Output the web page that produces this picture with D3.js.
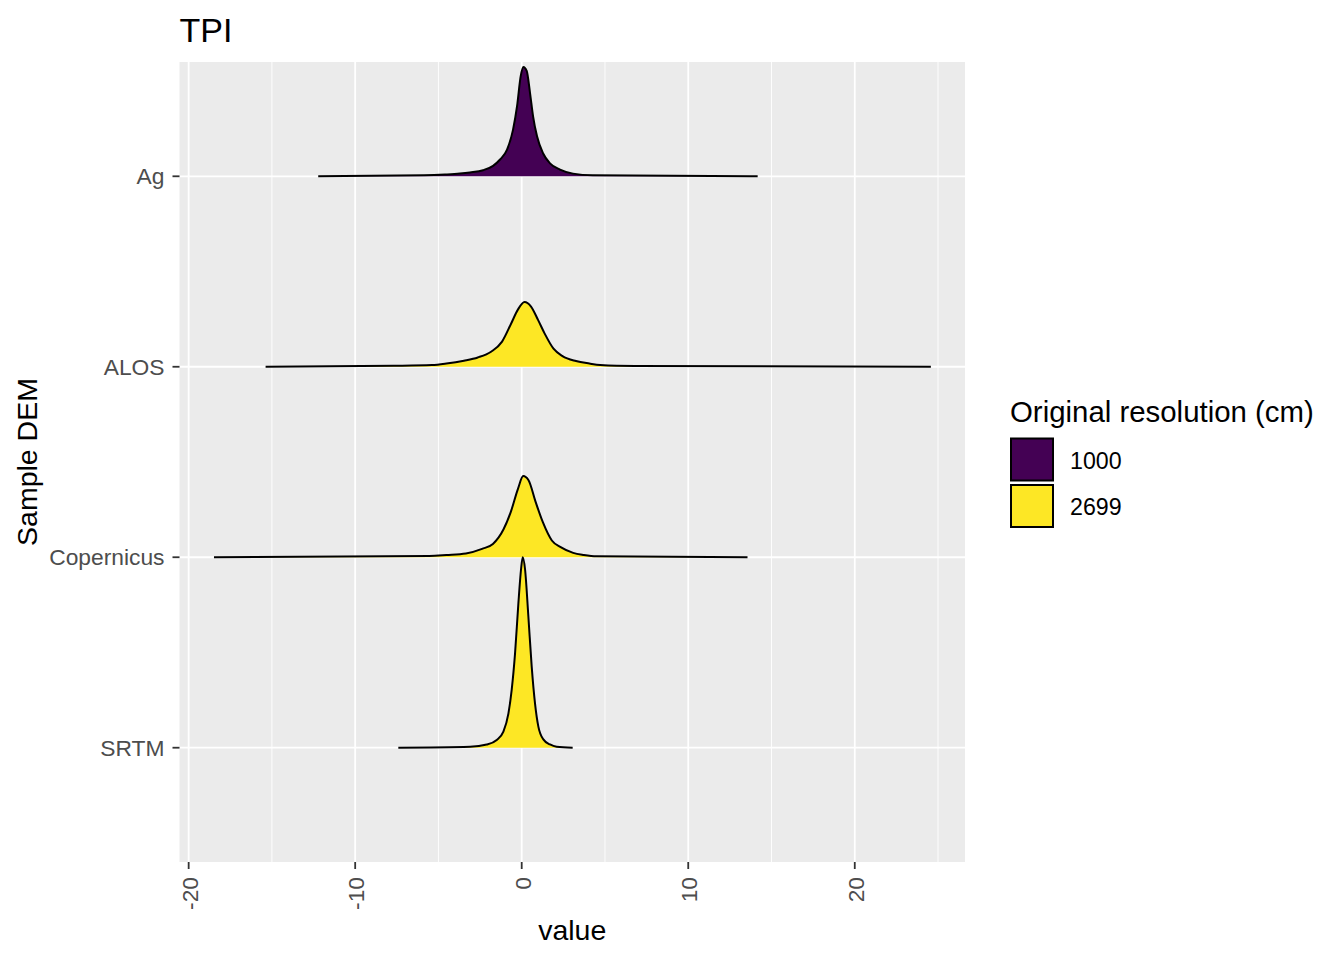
<!DOCTYPE html>
<html>
<head>
<meta charset="utf-8">
<script src="https://cdn.jsdelivr.net/npm/d3@7"></script>
<style>
  body { margin: 0; background: #fff; }
  text { font-family: 'Liberation Sans', Arial, sans-serif; }
</style>
</head>
<body>
<div id="chart"></div>
<script>
// ridge categories, top to bottom
const categories = ['Ag', 'ALOS', 'Copernicus', 'SRTM'];
const resolution = ['1000', '2699', '2699', '2699'];
const legendLevels = ['1000', '2699'];
const xTicks = [-20, -10, 0, 10, 20];
const xMinorTicks = [-15, -5, 5, 15, 25];

// density curves (x value, scaled density)
const agX = [-12.22, -5.87, -4.61, -3.71, -3.11, -2.32, -1.72, -1.3, -0.88, -0.52, -0.28, -0.06, 0.1, 0.3, 0.5, 0.68, 0.92, 1.28, 1.7, 2.3, 3.08, 4.26, 14.17];
const agD = [0, 0.005, 0.009, 0.014, 0.02, 0.032, 0.055, 0.088, 0.14, 0.245, 0.368, 0.526, 0.574, 0.553, 0.437, 0.316, 0.21, 0.121, 0.068, 0.035, 0.014, 0.005, 0];

const alosX = [-15.38, -7.68, -5.39, -4.52, -3.47, -2.64, -1.84, -1.18, -0.64, -0.23, 0.17, 0.56, 0.98, 1.38, 1.91, 2.45, 3.26, 4.06, 4.71, 6.79, 24.57];
const alosD = [0, 0.005, 0.009, 0.017, 0.032, 0.049, 0.079, 0.132, 0.226, 0.3, 0.34, 0.316, 0.246, 0.174, 0.095, 0.056, 0.03, 0.017, 0.009, 0.004, 0];

const copX = [-18.48, -5.55, -4.52, -3.35, -2.38, -1.73, -1.09, -0.66, -0.23, 0.09, 0.41, 0.84, 1.27, 1.81, 2.34, 3.09, 3.73, 4.49, 13.56];
const copD = [0, 0.007, 0.012, 0.02, 0.044, 0.07, 0.147, 0.237, 0.358, 0.426, 0.404, 0.289, 0.184, 0.088, 0.053, 0.023, 0.012, 0.005, 0];

const srtmX = [-7.41, -3.1, -2.1, -1.5, -1.1, -0.8, -0.6, -0.4, -0.2, -0.04, 0.06, 0.2, 0.4, 0.6, 0.8, 1.0, 1.3, 1.7, 2.1, 3.06];
const srtmD = [0, 0.005, 0.017, 0.041, 0.084, 0.179, 0.305, 0.495, 0.758, 0.937, 1.0, 0.937, 0.689, 0.426, 0.232, 0.111, 0.044, 0.017, 0.005, 0];

const ridgeX = [agX, alosX, copX, srtmX];
const ridgeD = [agD, alosD, copD, srtmD];

const W = 1344, H = 960;
const panel = { left: 179.5, right: 965, top: 62, bottom: 862 };

const svg = d3.select('#chart').append('svg')
  .attr('width', W)
  .attr('height', H);

const x = d3.scaleLinear().domain([-20.55, 26.62]).range([panel.left, panel.right]);
// categories sit at 4..1 from top to bottom
const y = d3.scaleLinear().domain([0.4, 4.6]).range([panel.bottom, panel.top]);
const yPos = (i) => categories.length - i;

const fill = d3.scaleOrdinal().domain(legendLevels).range(['#440154', '#FDE725']);

// panel background + grid
svg.append('rect')
  .attr('x', panel.left)
  .attr('y', panel.top)
  .attr('width', panel.right - panel.left)
  .attr('height', panel.bottom - panel.top)
  .attr('fill', '#EBEBEB');

svg.append('g').selectAll('line')
  .data(xMinorTicks)
  .enter()
  .append('line')
  .attr('x1', (d) => x(d)).attr('x2', (d) => x(d))
  .attr('y1', panel.top).attr('y2', panel.bottom)
  .attr('stroke', '#fff').attr('stroke-width', 0.9);

svg.append('g').selectAll('line')
  .data(xTicks)
  .enter()
  .append('line')
  .attr('x1', (d) => x(d)).attr('x2', (d) => x(d))
  .attr('y1', panel.top).attr('y2', panel.bottom)
  .attr('stroke', '#fff').attr('stroke-width', 1.8);

svg.append('g').selectAll('line')
  .data(categories)
  .enter()
  .append('line')
  .attr('x1', panel.left).attr('x2', panel.right)
  .attr('y1', (d, i) => y(yPos(i))).attr('y2', (d, i) => y(yPos(i)))
  .attr('stroke', '#fff').attr('stroke-width', 1.8);

// ridges, top one first so lower ones overlap
categories.forEach((cat, i) => {
  const base = yPos(i);
  const pts = ridgeX[i].map((v, j) => ({ x: v, d: ridgeD[i][j] }));

  const area = d3.area()
    .curve(d3.curveMonotoneX)
    .x((p) => x(p.x))
    .y0(y(base))
    .y1((p) => y(base + p.d));

  const line = d3.line()
    .curve(d3.curveMonotoneX)
    .x((p) => x(p.x))
    .y((p) => y(base + p.d));

  svg.append('path')
    .datum(pts)
    .attr('d', area)
    .attr('fill', fill(resolution[i]));

  svg.append('path')
    .datum(pts)
    .attr('d', line)
    .attr('fill', 'none')
    .attr('stroke', '#000')
    .attr('stroke-width', 2);
});

// y axis
const yAxis = svg.append('g');
categories.forEach((cat, i) => {
  const yy = y(yPos(i));
  yAxis.append('line')
    .attr('x1', panel.left - 7).attr('x2', panel.left)
    .attr('y1', yy).attr('y2', yy)
    .attr('stroke', '#333').attr('stroke-width', 1.8);
  yAxis.append('text')
    .attr('x', panel.left - 15)
    .attr('y', yy + 8.2)
    .attr('text-anchor', 'end')
    .attr('fill', '#4D4D4D')
    .style('font-size', '22.8px')
    .text(cat);
});

// x axis
const xAxis = svg.append('g');
xTicks.forEach((t) => {
  xAxis.append('line')
    .attr('x1', x(t)).attr('x2', x(t))
    .attr('y1', panel.bottom).attr('y2', panel.bottom + 7)
    .attr('stroke', '#333').attr('stroke-width', 1.8);
  xAxis.append('text')
    .attr('transform', 'translate(' + (x(t) + 9) + ',' + (panel.bottom + 15) + ') rotate(-90)')
    .attr('text-anchor', 'end')
    .attr('fill', '#4D4D4D')
    .style('font-size', '22.8px')
    .text(t);
});

// titles
svg.append('text')
  .attr('x', panel.left)
  .attr('y', 41.5)
  .style('font-size', '34px')
  .attr('fill', '#000')
  .text('TPI');

svg.append('text')
  .attr('x', (panel.left + panel.right) / 2)
  .attr('y', 940)
  .attr('text-anchor', 'middle')
  .style('font-size', '28.5px')
  .text('value');

svg.append('text')
  .attr('transform', 'translate(37,' + (panel.top + panel.bottom) / 2 + ') rotate(-90)')
  .attr('text-anchor', 'middle')
  .style('font-size', '28.5px')
  .text('Sample DEM');

// legend
const legend = svg.append('g').attr('transform', 'translate(1010,0)');
legend.append('text')
  .attr('x', 0)
  .attr('y', 421.5)
  .style('font-size', '29.4px')
  .text('Original resolution (cm)');

legendLevels.forEach((lv, i) => {
  const top = 438.5 + i * 46.5;
  legend.append('rect')
    .attr('x', 1)
    .attr('y', top)
    .attr('width', 42)
    .attr('height', 42)
    .attr('fill', fill(lv))
    .attr('stroke', '#000')
    .attr('stroke-width', 2);
  legend.append('text')
    .attr('x', 60)
    .attr('y', top + 21 + 9)
    .style('font-size', '23.2px')
    .text(lv);
});
</script>
</body>
</html>
